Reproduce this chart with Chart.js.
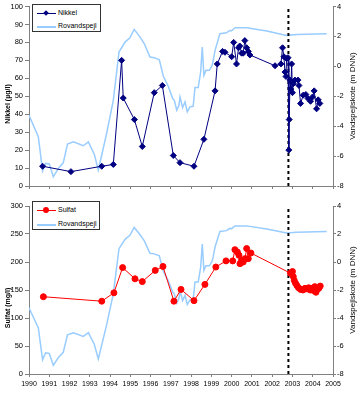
<!DOCTYPE html>
<html>
<head>
<meta charset="utf-8">
<script src="https://cdn.jsdelivr.net/npm/chart.js@4.4.1/dist/chart.umd.min.js"></script>
<style>
  body { margin: 0; background: #fff; font-family: "Liberation Sans", Arial, sans-serif; }
  #wrap { position: relative; width: 359px; height: 393px; overflow: hidden; }
  canvas { position: absolute; left: 0; }
  .legend { position: absolute; border: 1px solid #333; background: #fff; box-sizing: border-box; }
  .sw { position: absolute; left: 4px; width: 19px; height: 1px; }
  .mk { position: absolute; }
  .lbl { position: absolute; left: 25px; font-size: 7px; line-height: 10px; color: #000; }
  .title { position: absolute; font-size: 8px; white-space: nowrap; color: #000;
           transform: translate(-50%, -50%) rotate(-90deg); }
</style>
</head>
<body>
<div id="wrap">
  <canvas id="nikkel" width="359" height="195" style="top:0"></canvas>
  <canvas id="sulfat" width="359" height="198" style="top:195px"></canvas>

  <div class="legend" style="left:32px;top:4px;width:69px;height:28px">
    <span class="sw" style="top:8px;background:#000080"></span>
    <span class="mk" style="left:11px;top:6px;width:4px;height:4px;background:#000080;transform:rotate(45deg)"></span>
    <span class="lbl" style="top:3px">Nikkel</span>
    <span class="sw" style="top:21px;background:#99ccff;height:1.5px"></span>
    <span class="lbl" style="top:16px">Rovandspejl</span>
  </div>
  <div class="legend" style="left:32px;top:201px;width:68px;height:29px">
    <span class="sw" style="top:8px;background:#ff0000"></span>
    <span class="mk" style="left:10px;top:5px;width:6px;height:6px;background:#ff0000;border-radius:50%"></span>
    <span class="lbl" style="top:3px">Sulfat</span>
    <span class="sw" style="top:22px;background:#99ccff;height:1.5px"></span>
    <span class="lbl" style="top:17px">Rovandspejl</span>
  </div>

  <div class="title" style="left:6.5px;top:104px;font-weight:bold;font-size:7px">Nikkel (µg/l)</div>
  <div class="title" style="left:351.5px;top:96px">Vandspejlskote (m DNN)</div>
  <div class="title" style="left:6.5px;top:308px;font-weight:bold;font-size:7px">Sulfat (mg/l)</div>
  <div class="title" style="left:351.5px;top:290px">Vandspejlskote (m DNN)</div>
</div>

<script>
// Rovandspejl (vandspejlskote, m DNN)
const rovYears = [1990.00, 1990.46, 1990.67, 1990.82, 1991.00, 1991.20, 1991.45, 1991.69, 1991.90, 1992.19,
  1992.68, 1992.93, 1993.22, 1993.42, 1993.83, 1994.16, 1994.44, 1994.74, 1994.98, 1995.19,
  1995.48, 1995.69, 1995.97, 1996.18, 1996.43, 1996.63, 1996.87, 1997.09, 1997.17, 1997.29,
  1997.40, 1997.45, 1997.58, 1997.70, 1997.81, 1997.94, 1998.10, 1998.19, 1998.35, 1998.47,
  1998.55, 1998.63, 1998.73, 1998.90, 1999.04, 1999.09, 1999.18, 1999.42, 1999.75, 1999.90,
  2000.00, 2000.16, 2000.74, 2001.73, 2002.71, 2003.20, 2004.69];
const rovLevel = [-3.27, -4.71, -6.98, -6.49, -6.53, -7.38, -6.82, -6.45, -5.20, -5.05,
  -5.31, -5.05, -5.87, -6.93, -4.49, -2.27, 0.95, 1.62, 1.91, 2.47,
  1.95, 1.51, 0.62, 0.58, 0.44, -0.67, -1.33, -2.15, -2.27, -2.93,
  -2.60, -2.05, -2.75, -2.38, -3.04, -2.71, -2.67, -1.42, -1.42, -0.38,
  1.29, -0.60, -0.27, -0.27, 0.07, 0.40, 1.07, 2.18, 2.24, 2.40,
  2.38, 2.58, 2.58, 2.36, 2.07, 2.13, 2.18];

// Nikkel (µg/l)
const nikkelYears = [1990.67, 1992.07, 1993.59, 1994.16, 1994.57, 1994.65, 1995.20, 1995.59, 1996.18, 1996.58,
  1997.12, 1997.45, 1998.14, 1998.63, 1999.18, 1999.29, 1999.55, 1999.67, 2000.00, 2000.10,
  2000.24, 2000.34, 2000.40, 2000.49, 2000.57, 2000.65, 2000.74, 2000.82, 2000.90, 2002.14,
  2002.43, 2002.51, 2002.58, 2002.63, 2002.68, 2002.71, 2002.78, 2002.82, 2002.84, 2002.88,
  2002.92, 2002.96, 2003.00, 2003.04, 2003.12, 2003.27, 2003.32, 2003.40, 2003.53, 2003.66,
  2003.77, 2003.89, 2003.99, 2004.07, 2004.19, 2004.27, 2004.35];
const nikkelValues = [11, 8, 11, 12, 70, 49, 37, 22, 52, 56,
  17, 13, 11, 26, 53, 68, 75, 74.5, 72, 80,
  68, 77, 78, 74, 74, 81, 77, 75, 73, 67,
  68, 77, 72, 63.5, 61, 71, 71.5, 20, 37, 59,
  54, 68, 52, 57, 59, 59, 56, 46, 50.6, 51,
  48.7, 47.2, 49.6, 53, 43, 48, 46];

// Sulfat (mg/l)
const sulfatYears = [1990.71, 1993.59, 1994.19, 1994.62, 1995.23, 1995.59, 1996.23, 1996.61, 1997.15, 1997.50,
  1998.14, 1998.68, 1999.22, 1999.72, 2000.05, 2000.16, 2000.28, 2000.36, 2000.41, 2000.49,
  2000.57, 2000.66, 2000.74, 2000.82, 2000.95, 2002.90, 2003.00, 2003.04, 2003.09, 2003.15,
  2003.22, 2003.30, 2003.40, 2003.52, 2003.62, 2003.72, 2003.80, 2003.88, 2003.96, 2004.04,
  2004.10, 2004.16, 2004.22, 2004.30, 2004.37];
const sulfatValues = [138, 130, 145, 190, 170, 165, 185, 192, 130, 151,
  131, 160, 191, 202, 202, 222, 218, 212, 197, 203,
  200, 206, 224, 206, 216, 180, 183, 174, 167, 162,
  158, 154, 151, 150, 153, 152, 154, 150, 153, 149,
  156, 146, 151, 153, 157];

// stiplet lodret markering
const markYear = 2002.8;

const xRange = [1990, 2005];
const levelRange = [-8, 4];

Chart.defaults.font.family = '"Liberation Sans", Arial, sans-serif';
Chart.defaults.font.size = 7.5;
Chart.defaults.color = '#000';

const toPoints = (xs, ys) => xs.map((x, i) => ({ x: x, y: ys[i] }));

function buildChart(canvasId, opt) {
  const rovDs = {
    label: 'Rovandspejl', data: toPoints(rovYears, rovLevel), yAxisID: 'y2',
    showLine: true, borderColor: '#99ccff', borderWidth: 1.5, pointRadius: 0, order: 3
  };
  const mainDs = {
    label: opt.label, data: toPoints(opt.years, opt.values), yAxisID: 'y',
    showLine: true, borderColor: opt.color, backgroundColor: opt.color, borderWidth: 1,
    pointStyle: opt.pointStyle, pointRadius: opt.pointRadius, pointBorderWidth: 1, order: 1
  };
  const markDs = {
    label: 'mark', data: [{ x: markYear, y: opt.yMin }, { x: markYear, y: opt.yMax }], yAxisID: 'y',
    showLine: true, borderColor: '#000', borderWidth: 2, borderDash: [3, 3], pointRadius: 0, order: 2
  };

  return new Chart(document.getElementById(canvasId), {
    type: 'scatter',
    data: { datasets: [mainDs, markDs, rovDs] },
    options: {
      responsive: false, animation: false, devicePixelRatio: 1,
      layout: { padding: { top: opt.padTop, left: 0, right: 0, bottom: 0 } },
      plugins: { legend: { display: false }, tooltip: { enabled: false } },
      scales: {
        x: {
          type: 'linear', min: xRange[0], max: xRange[1],
          ticks: { stepSize: 1, display: opt.xLabels, padding: 3, maxRotation: 0, autoSkip: false,
                   font: { size: 7 }, callback: v => String(v) },
          grid: { drawOnChartArea: false, tickLength: 3, color: '#808080' },
          border: { color: '#808080' },
          afterFit(s) { s.height = opt.xHeight; }
        },
        y: {
          position: 'left', min: opt.yMin, max: opt.yMax,
          ticks: { stepSize: opt.yStep, padding: 2 },
          grid: { drawOnChartArea: false, tickLength: 4, color: '#808080' },
          border: { color: '#808080' },
          afterFit(s) { s.width = 29; }
        },
        y2: {
          position: 'right', min: levelRange[0], max: levelRange[1],
          ticks: { stepSize: 2, padding: 1 },
          grid: { drawOnChartArea: false, tickLength: 3, color: '#808080' },
          border: { color: '#808080' },
          afterFit(s) { s.width = 26; }
        }
      }
    }
  });
}

buildChart('nikkel', {
  label: 'Nikkel', years: nikkelYears, values: nikkelValues, color: '#000080',
  pointStyle: 'rectRot', pointRadius: 3, yMin: 0, yMax: 100, yStep: 10,
  padTop: 6, xLabels: false, xHeight: 9
});

buildChart('sulfat', {
  label: 'Sulfat', years: sulfatYears, values: sulfatValues, color: '#ff0000',
  pointStyle: 'circle', pointRadius: 3, yMin: 0, yMax: 300, yStep: 50,
  padTop: 11, xLabels: true, xHeight: 19
});
</script>
</body>
</html>
